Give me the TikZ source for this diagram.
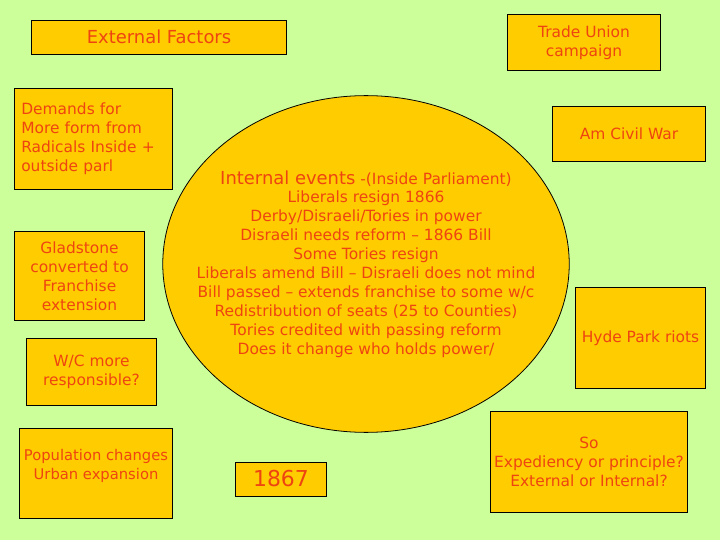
\documentclass[tikz,border=0pt]{standalone}
\usepackage{fontspec}
\setmainfont{DejaVu Sans}
\usetikzlibrary{shapes.geometric}
\definecolor{bg}{HTML}{CCFF99}
\definecolor{gold}{HTML}{FFCC00}
\definecolor{ink}{HTML}{EE4411}

\begin{document}
\begin{tikzpicture}[x=1bp,y=-1bp,
    box/.style={draw,fill=gold,line width=0.8bp,inner sep=0pt,align=center,
      text=ink,font=\fontsize{15.5}{19}\selectfont},
    txt/.style={text=ink,align=center,font=\fontsize{15.5}{19}\selectfont}]
  \fill[bg] (0,0) rectangle (720,540);
  \node[box,minimum width=256,minimum height=34,font=\fontsize{18}{20}\selectfont] (ext) at (159,37) {External Factors};
  \node[box,minimum width=159,minimum height=102,text width=145,inner xsep=7,align=left] (demands) at (93.5,139)
    {Demands for\\More form from\\Radicals Inside +\\outside parl};
  \node[box,minimum width=131,minimum height=90] (gladstone) at (79.5,276)
    {Gladstone\\converted to\\Franchise\\extension};
  \node[box,minimum width=131,minimum height=68] (wc) at (91.5,372) {W/C more\\responsible?};
  \node[box,minimum width=154,minimum height=91] (population) at (96,473.5) {};
  \node[txt,font=\fontsize{14.8}{19}\selectfont] at ([yshift=8bp]population.center) {Population changes\\Urban expansion};
  \node[box,minimum width=92,minimum height=34,font=\fontsize{22}{28}\selectfont] (year) at (281,479) {1867};
  \node[box,ellipse,minimum width=408,minimum height=338] (internal) at (366,264) {};
  \node[txt] at (internal.center)
    {{\fontsize{18}{19}\selectfont Internal events} -(Inside Parliament)\\
     Liberals resign 1866\\
     Derby/Disraeli/Tories in power\\
     Disraeli needs reform – 1866 Bill\\
     Some Tories resign\\
     Liberals amend Bill – Disraeli does not mind\\
     Bill passed – extends franchise to some w/c\\
     Redistribution of seats (25 to Counties)\\
     Tories credited with passing reform\\
     Does it change who holds power/};
  \node[box,minimum width=154,minimum height=57] (trade) at (584,42.5) {Trade Union\\campaign};
  \node[box,minimum width=154,minimum height=56] (civilwar) at (629,134) {Am Civil War};
  \node[box,minimum width=131,minimum height=102] (hyde) at (640.5,338) {Hyde Park riots};
  \node[box,minimum width=198,minimum height=102] (so) at (589,462)
    {So\\Expediency or principle?\\External or Internal?};
\end{tikzpicture}
\end{document}
